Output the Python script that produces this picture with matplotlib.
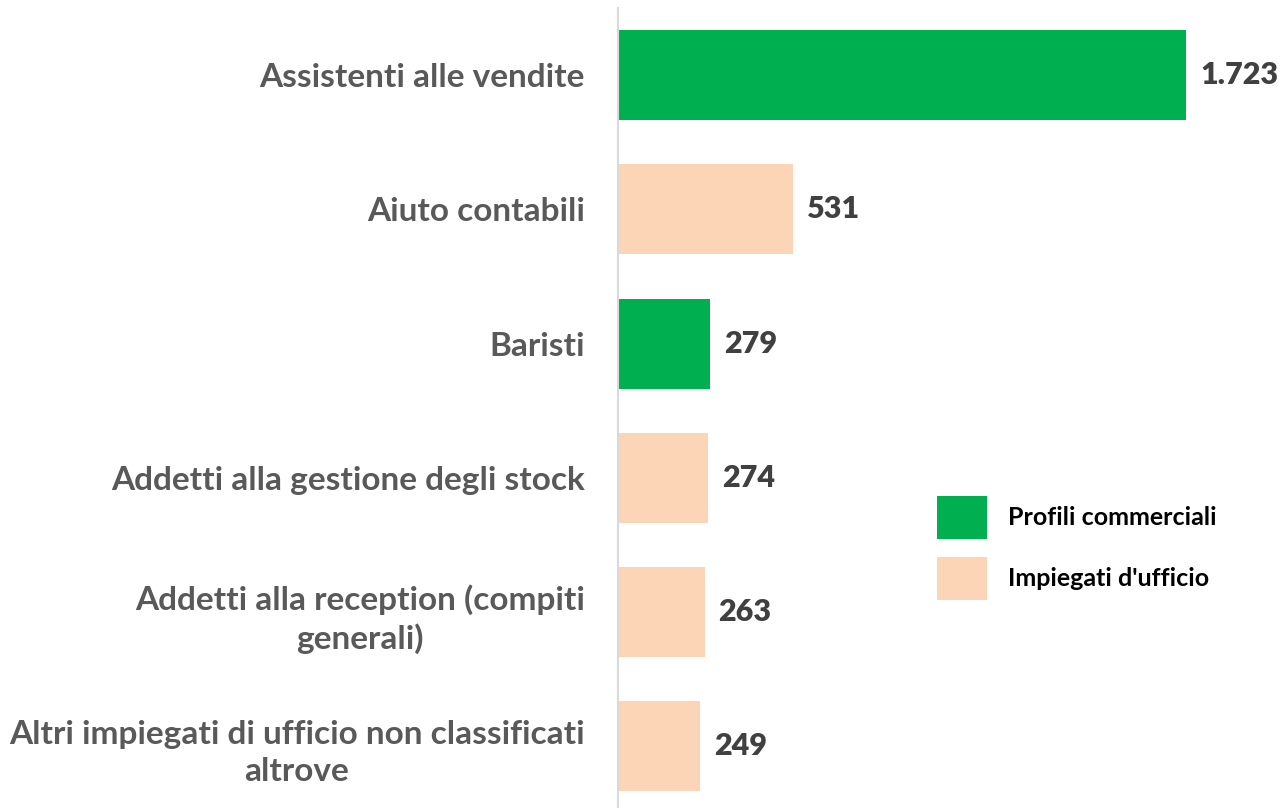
import matplotlib
matplotlib.use("Agg")
import matplotlib.pyplot as plt
from matplotlib.patches import Patch

plt.rcParams['font.family'] = ['Lato', 'DejaVu Sans']

categories = [
    "Assistenti alle vendite",
    "Aiuto contabili",
    "Baristi",
    "Addetti alla gestione degli stock",
    "Addetti alla reception (compiti\ngenerali)",
    "Altri impiegati di ufficio non classificati\naltrove",
]
values = [1723, 531, 279, 274, 263, 249]
groups = ["comm", "uff", "comm", "uff", "uff", "uff"]
group_names = {"comm": "Profili commerciali", "uff": "Impiegati d'ufficio"}
group_colors = {"comm": "#00B050", "uff": "#FBD5B5"}

fig = plt.figure(figsize=(12.81, 8.08), dpi=100)
ax = fig.add_axes([0.4824, 0.0, 0.515, 0.990])

ypos = list(range(len(categories)))
colors = [group_colors[g] for g in groups]
bars = ax.barh(ypos, values, height=0.67, color=colors)

ax.set_xlim(0, 2000)
ax.set_ylim(5.46, -0.5)

ax.set_yticks(ypos)
ax.set_yticklabels(categories, fontsize=24, fontweight='bold', color='#595959',
                   ha='right', multialignment='center', linespacing=1.35)
ax.tick_params(axis='y', length=0, pad=24)
ax.set_xticks([])

for s in ['top', 'right', 'bottom']:
    ax.spines[s].set_visible(False)
ax.spines['left'].set_color('#D9D9D9')
ax.spines['left'].set_linewidth(1.5)

labels = [f"{v:,}".replace(",", ".") for v in values]
ax.bar_label(bars, labels=labels, padding=10, fontsize=22, fontweight='heavy', color='#404040')

handles = [Patch(facecolor=group_colors[k], label=group_names[k]) for k in ["comm", "uff"]]
fig.legend(handles=handles, loc='center left', bbox_to_anchor=(0.714, 0.322),
           frameon=False, handlelength=2.0, handleheight=2.3,
           labelspacing=0.7, handletextpad=0.84,
           prop={'weight': 'bold', 'size': 18})

fig.savefig("out.png", dpi=100)
